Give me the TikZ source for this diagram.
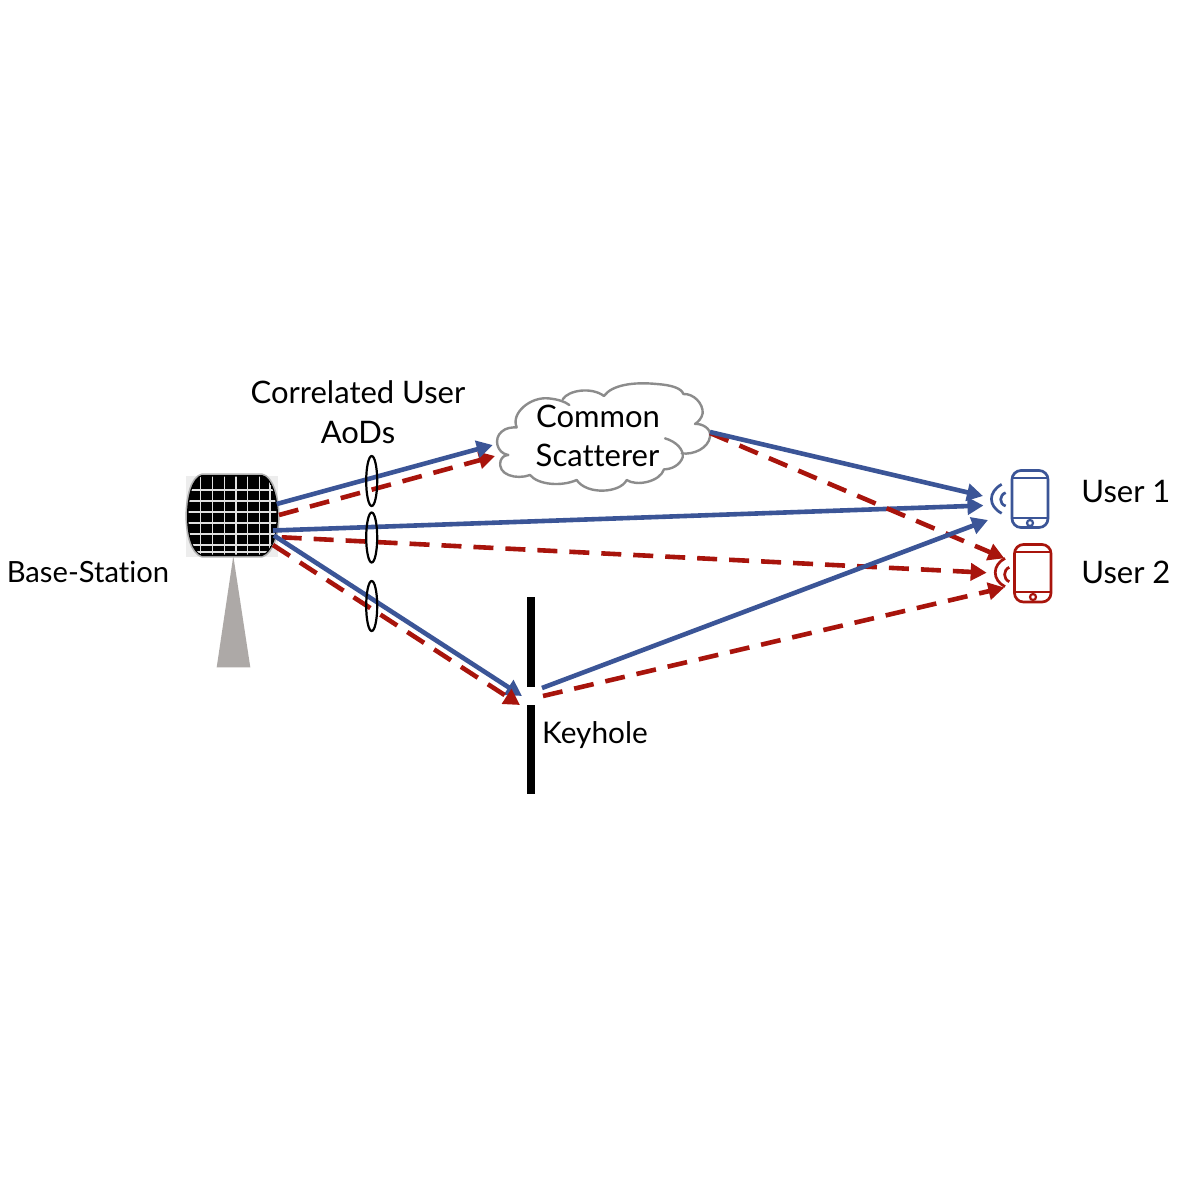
\documentclass[tikz,border=0pt]{standalone}
\usepackage{fontspec}
\setmainfont{Lato}[Ligatures=CommonOff]
\usetikzlibrary{arrows.meta,calc,shapes.geometric}
\definecolor{bl}{HTML}{3B5597}
\definecolor{rd}{HTML}{A8140C}
\definecolor{gr}{HTML}{ADA9A7}
\definecolor{cl}{HTML}{8C8C8C}
\tikzset{
 x=0.5pt,y=-0.5pt,
 lbl/.style={font=\fontsize{15.5pt}{19pt}\selectfont,text=black,inner sep=0pt,align=center},
 bluepath/.style={draw=bl,line width=2.3pt,-{Triangle[length=8pt,width=8.5pt]}},
 redpath/.style={draw=rd,line width=2.3pt,dash pattern=on 10pt off 6pt,-{Triangle[length=8pt,width=8.5pt]}},
 lens/.style={draw=black,line width=1.1pt,fill=none,ellipse,minimum width=5.5pt,minimum height=25pt,inner sep=0pt},
 bar/.style={fill=black,draw=none},
 phoneline/.style={line width=1.35pt},
}
\begin{document}
\begin{tikzpicture}
\useasboundingbox (0,0) rectangle (1200,1200);
\fill[white] (0,0) rectangle (1200,1200);
% base station mast and array
\fill[gr] (233.3,556) -- (250.3,667.3) -- (216.7,667.3) -- cycle;
\fill[black!7] (186,476) rectangle (278,557);
\draw[black!30,line width=1.6pt,line join=round] (202,475) -- (262,475) .. controls (272,477) and (278,497) .. (278,516) .. controls (278,535) and (272,553) .. (262,556) -- (202,556) .. controls (192,553) and (187,535) .. (187,516) .. controls (187,497) and (192,477) .. (202,475) -- cycle;
\fill[black] (202,475) -- (262,475) .. controls (272,477) and (278,497) .. (278,516) .. controls (278,535) and (272,553) .. (262,556) -- (202,556) .. controls (192,553) and (187,535) .. (187,516) .. controls (187,497) and (192,477) .. (202,475) -- cycle;
\begin{scope}
\clip (202,476.5) -- (262,476.5) .. controls (271,478) and (276.5,497) .. (276.5,516) .. controls (276.5,535) and (271,552) .. (262,554.5) -- (202,554.5) .. controls (193,552) and (188.5,535) .. (188.5,516) .. controls (188.5,497) and (193,478) .. (202,476.5) -- cycle;
\foreach \gx in {200.7,212.3,224.3,236,247.7,259.3,270}{\draw[white!88!black,line width=0.7pt] (\gx,470) -- (\gx,560);}
\foreach \gy in {490,501,512,523,534,545,552}{\draw[white!88!black,line width=0.7pt] (180,\gy) -- (285,\gy);}
\end{scope}
% keyhole
\fill[bar] (527,597) rectangle (535,686.5);
\fill[bar] (527,705) rectangle (535,794);
% cloud
\begin{scope}[shift={(480,370)},x=0.16667pt,y=-0.16667pt]
\draw[cl,line width=1.2pt,fill=white,line join=round,line cap=round]
 (85,255) .. controls (50,250) and (40,205) .. (65,185) .. controls (78,173) and (95,172) .. (110,172)
 .. controls (92,130) and (150,80) .. (205,85) .. controls (235,88) and (255,95) .. (268,105)
 (248,88) .. controls (265,60) and (335,50) .. (372,78)
 .. controls (395,45) and (460,35) .. (530,42) .. controls (575,45) and (605,55) .. (610,72)
 .. controls (640,70) and (670,100) .. (668,130) .. controls (665,145) and (655,155) .. (645,162)
 .. controls (665,160) and (695,175) .. (690,200) .. controls (685,235) and (640,255) .. (605,250)
 (555,205) .. controls (590,215) and (612,240) .. (608,262) .. controls (600,285) and (575,298) .. (552,298)
 .. controls (540,335) and (470,350) .. (440,330)
 .. controls (420,370) and (320,375) .. (290,330)
 .. controls (245,350) and (175,345) .. (150,315)
 .. controls (110,330) and (50,315) .. (62,272) .. controls (66,262) and (72,256) .. (85,255);
\end{scope}
% phones
\draw[bl,phoneline,rounded corners=4.5pt] (1012,470.5) rectangle (1048,527.5);
\draw[bl,phoneline] (1012,478) -- (1048,478) (1012,518) -- (1048,518);
\draw[bl,line width=1.1pt] (1030,523) circle (1.5pt);
\draw[bl,phoneline] (1001.7,484.3) .. controls (988,492) and (988,506) .. (1001.7,513.3);
\draw[bl,phoneline] (1005.7,492.7) .. controls (999,495) and (999,504) .. (1005.7,506);
\draw[rd,phoneline,rounded corners=4.5pt] (1014.5,544.5) rectangle (1051,602);
\draw[rd,phoneline] (1014.5,552) -- (1051,552) (1014.5,592) -- (1051,592);
\draw[rd,line width=1.1pt] (1033,597) circle (1.5pt);
\draw[rd,phoneline] (1005,558.3) .. controls (992,565) and (992,580) .. (1005,586.7);
\draw[rd,phoneline] (1009.3,567.3) .. controls (1003,570) and (1003,579) .. (1009.3,581.7);
% anchor points
\coordinate (bsA) at (276.7,504); \coordinate (cloudIn) at (492.7,445);
\coordinate (bsB) at (279,515); \coordinate (cloudInR) at (495,456);
\coordinate (bsC) at (273,530.5); \coordinate (u1a) at (983.5,505.5);
\coordinate (bsD) at (281.7,537.3); \coordinate (u2a) at (986.7,572.7);
\coordinate (bsE) at (274,535.5); \coordinate (khB) at (522,696);
\coordinate (bsF) at (273,545); \coordinate (khR) at (520,705);
\coordinate (cloudOut) at (710,432); \coordinate (u1b) at (983,496);
\coordinate (cloudOutR) at (710,433); \coordinate (u2b) at (1004.3,558.3);
\coordinate (khOutB) at (542,688); \coordinate (u1c) at (988,520);
\coordinate (khOutR) at (543,696); \coordinate (u2c) at (1004.3,587.5);
% connectors
\draw[redpath] (bsB) -- (cloudInR);
\draw[bluepath] (bsA) -- (cloudIn);
\draw[redpath] (bsD) -- (u2a);
\draw[bluepath] (bsC) -- (u1a);
\draw[bluepath] (bsE) -- (khB);
\draw[redpath] (bsF) -- (khR);
\draw[redpath] (cloudOutR) -- (u2b);
\draw[bluepath] (cloudOut) -- (u1b);
\draw[redpath] (khOutR) -- (u2c);
\draw[bluepath] (khOutB) -- (u1c);
% lenses
\node[lens] (lensA) at (371.7,481) {};
\node[lens] (lensB) at (371.7,537.5) {};
\node[lens] (lensC) at (371.7,606) {};
% labels
\node[lbl] (corr) at (358,392) {Correlated User};
\node[lbl] (aods) at (358,433) {AoDs};
\node[lbl] (comm) at (598,416) {Common};
\node[lbl] (scat) at (597.5,455) {Scatterer};
\node[lbl,font=\fontsize{14.6pt}{19pt}\selectfont] (base) at (88,572) {Base-Station};
\node[lbl,font=\fontsize{14.9pt}{19pt}\selectfont] (key) at (595,735) {Keyhole};
\node[lbl,anchor=west] (ua) at (1081,491) {User 1};
\node[lbl,anchor=west] (ub) at (1081,572) {User 2};
\end{tikzpicture}
\end{document}
